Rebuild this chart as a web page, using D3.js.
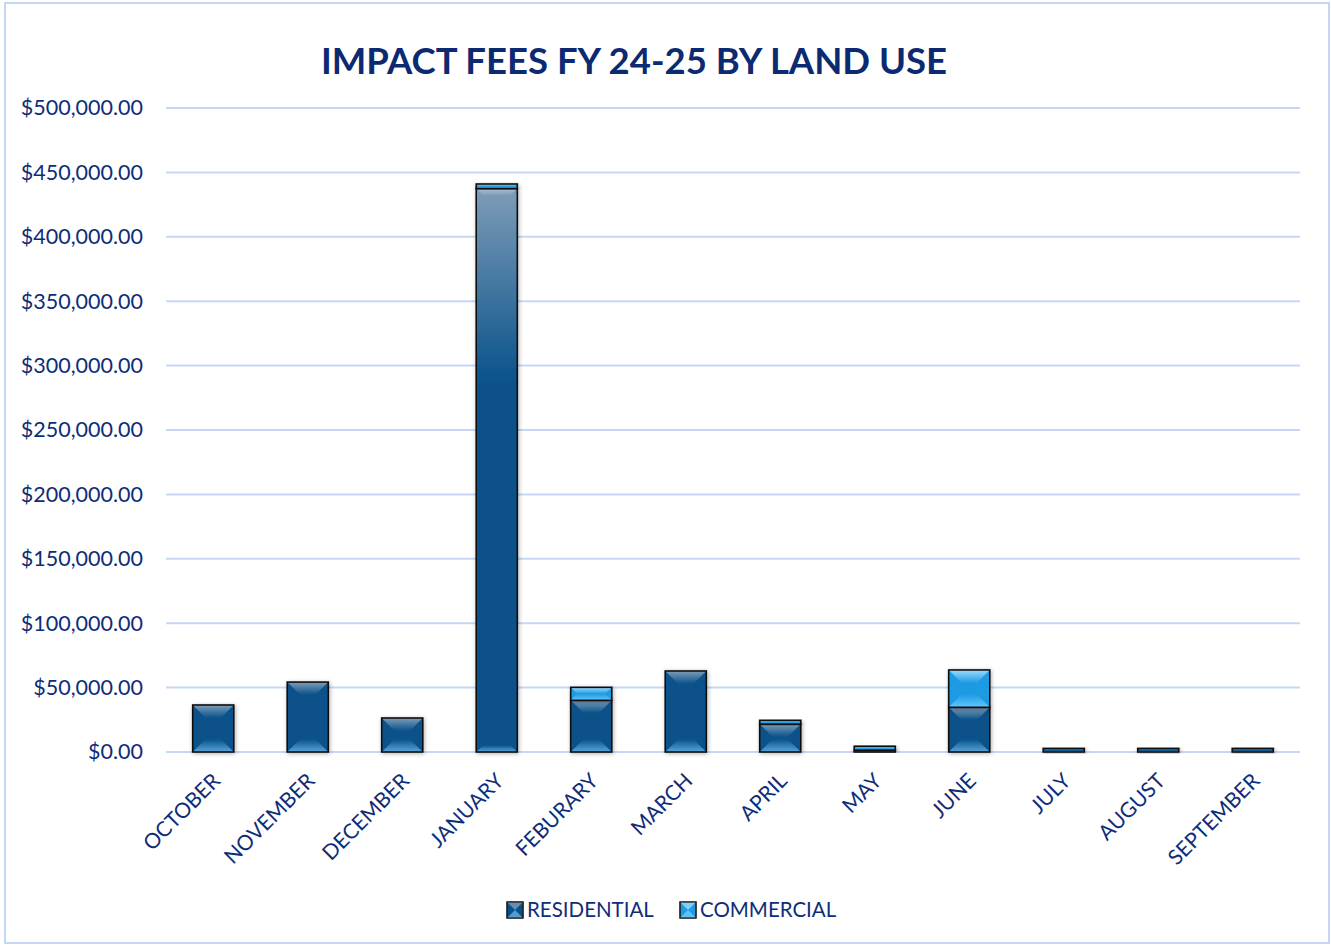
<!DOCTYPE html>
<html>
<head>
<meta charset="utf-8">
<script src="https://cdn.jsdelivr.net/npm/d3@7"></script>
<style>
  body { margin: 0; background: #fff; }
  svg { display: block; font-family: Lato, "Open Sans", sans-serif; }
</style>
</head>
<body>
<svg id="chart" width="1331" height="945"></svg>
<script>
// values
var months = ["OCTOBER", "NOVEMBER", "DECEMBER", "JANUARY", "FEBURARY", "MARCH",
              "APRIL", "MAY", "JUNE", "JULY", "AUGUST", "SEPTEMBER"];
var residential = [36500, 54300, 26400, 437500, 40100, 62900, 21700, 1500, 34700, 2800, 2800, 2800];
var commercial = [0, 0, 0, 3500, 10100, 0, 2900, 3000, 29000, 0, 0, 0];
var seriesNames = ["RESIDENTIAL", "COMMERCIAL"];
var yTicks = [0, 50000, 100000, 150000, 200000, 250000, 300000, 350000, 400000, 450000, 500000];

var svg = d3.select("#chart");
var textColor = "#0e2d78";
var gridColor = "#c6d7f6";

// palette per series: base, light top, light bottom
var pal = {
  RESIDENTIAL: { base: "#07518a", top: "#7e9cb8", bottom: "#5aa4d8", cap: "#a9bfd2" },
  COMMERCIAL: { base: "#1f9be2", top: "#9adcff", bottom: "#62c6ff", cap: "#c2ecff" }
};

var rows = months.map(function(m, i) {
  return { month: m, RESIDENTIAL: residential[i], COMMERCIAL: commercial[i] };
});

var x = d3.scaleBand().domain(months).range([166, 1300])
  .paddingInner(0.565).paddingOuter(0.2825);
var y = d3.scaleLinear().domain([0, 500000]).range([752, 108]);

// outer frame
svg.append("rect")
  .attr("x", 5).attr("y", 3).attr("width", 1324).attr("height", 940)
  .attr("fill", "#fff").attr("stroke", gridColor).attr("stroke-width", 2);

// defs: gradients and shadow
var defs = svg.append("defs");
seriesNames.forEach(function(s) {
  var g = defs.append("linearGradient").attr("id", "top-" + s)
    .attr("x1", 0).attr("y1", 0).attr("x2", 0).attr("y2", 1);
  g.append("stop").attr("offset", 0).attr("stop-color", pal[s].top);
  g.append("stop").attr("offset", 1).attr("stop-color", pal[s].base);
  var c = defs.append("linearGradient").attr("id", "cap-" + s)
    .attr("x1", 0).attr("y1", 0).attr("x2", 0).attr("y2", 1);
  c.append("stop").attr("offset", 0).attr("stop-color", pal[s].cap);
  c.append("stop").attr("offset", 1).attr("stop-color", pal[s].top);
  var b = defs.append("linearGradient").attr("id", "bot-" + s)
    .attr("x1", 0).attr("y1", 0).attr("x2", 0).attr("y2", 1);
  b.append("stop").attr("offset", 0).attr("stop-color", pal[s].base);
  b.append("stop").attr("offset", 1).attr("stop-color", pal[s].bottom);
  var body = defs.append("linearGradient").attr("id", "body-" + s)
    .attr("x1", 0).attr("y1", 0).attr("x2", 0).attr("y2", 1);
  body.append("stop").attr("offset", 0).attr("stop-color", pal[s].top);
  body.append("stop").attr("offset", 0.35).attr("stop-color", pal[s].base);
  body.append("stop").attr("offset", 1).attr("stop-color", pal[s].base);
});
var shadow = defs.append("filter").attr("id", "shadow")
  .attr("x", "-30%").attr("y", "-30%").attr("width", "160%").attr("height", "160%");
shadow.append("feDropShadow").attr("dx", 1).attr("dy", 1).attr("stdDeviation", 2)
  .attr("flood-color", "#000").attr("flood-opacity", 0.3);

// gridlines
svg.append("g").selectAll("line").data(yTicks).join("line")
  .attr("x1", 166).attr("x2", 1300)
  .attr("y1", function(d) { return y(d); }).attr("y2", function(d) { return y(d); })
  .attr("stroke", gridColor).attr("stroke-width", 2);

// y axis labels
var yAxis = d3.axisLeft(y).tickValues(yTicks).tickSize(0).tickPadding(0)
  .tickFormat(function(d) { return "$" + d3.format(",.2f")(d); });
var ya = svg.append("g").attr("transform", "translate(143,0)").call(yAxis);
ya.select(".domain").remove();
ya.selectAll("text").attr("fill", textColor).attr("font-size", 21.5)
  .attr("font-family", "Lato, sans-serif");

// x axis labels
var xAxis = d3.axisBottom(x).tickSize(0).tickPadding(0);
var xa = svg.append("g").attr("transform", "translate(0,752)").call(xAxis);
xa.select(".domain").remove();
xa.selectAll("text")
  .attr("fill", textColor).attr("font-size", 21).attr("font-family", "Lato, sans-serif")
  .attr("text-anchor", "end").attr("dy", "0.35em")
  .attr("transform", "translate(3,25) rotate(-45)");

// stacked bars
var stack = d3.stack().keys(seriesNames)(rows);
var bw = x.bandwidth();

stack.forEach(function(layer) {
  var s = layer.key;
  var g = svg.append("g").attr("class", "series-" + s);
  layer.forEach(function(d) {
    var h = y(d[0]) - y(d[1]);
    if (h <= 0.1) return;
    var x0 = x(d.data.month), y0 = y(d[1]);
    var tall = h > 150;
    var seg = g.append("g").attr("filter", "url(#shadow)");
    seg.append("rect").attr("x", x0).attr("y", y0).attr("width", bw).attr("height", h)
      .attr("fill", tall ? "url(#body-" + s + ")" : pal[s].base);
    var dd = tall ? 7 : Math.min(13, h / 2, bw / 2);
    seg.append("polygon")
      .attr("points", [[x0, y0], [x0 + bw, y0], [x0 + bw - dd, y0 + dd], [x0 + dd, y0 + dd]].join(" "))
      .attr("fill", tall ? "url(#cap-" + s + ")" : "url(#top-" + s + ")");
    seg.append("polygon")
      .attr("points", [[x0 + dd, y0 + h - dd], [x0 + bw - dd, y0 + h - dd], [x0 + bw, y0 + h], [x0, y0 + h]].join(" "))
      .attr("fill", "url(#bot-" + s + ")");
    seg.append("rect").attr("x", x0).attr("y", y0).attr("width", bw).attr("height", h)
      .attr("fill", "none").attr("stroke", "#111").attr("stroke-width", 1.6);
  });
});

// title
svg.append("text")
  .attr("x", 634).attr("y", 74).attr("text-anchor", "middle")
  .attr("font-size", 36.5).attr("font-weight", "bold").attr("fill", "#0c2a72")
  .text("IMPACT FEES FY 24-25 BY LAND USE");

// legend
var legendX = [507, 680];
var lg = svg.append("g").selectAll("g").data(seriesNames).join("g")
  .attr("transform", function(d, i) { return "translate(" + legendX[i] + ",902)"; });
lg.append("rect").attr("width", 16).attr("height", 16).attr("fill", function(d) { return pal[d].base; })
  .attr("stroke", "#222").attr("stroke-width", 1.2);
lg.append("polygon").attr("points", "0,0 16,0 8,8").attr("fill", function(d) { return pal[d].top; }).attr("opacity", 0.8);
lg.append("polygon").attr("points", "0,16 16,16 8,8").attr("fill", function(d) { return pal[d].bottom; }).attr("opacity", 0.9);
lg.append("rect").attr("width", 16).attr("height", 16).attr("fill", "none")
  .attr("stroke", "#222").attr("stroke-width", 1.2);
lg.append("text").attr("x", 20).attr("y", 8).attr("dy", "0.35em")
  .attr("font-size", 20.5).attr("fill", textColor)
  .text(function(d) { return d; });
</script>
</body>
</html>
